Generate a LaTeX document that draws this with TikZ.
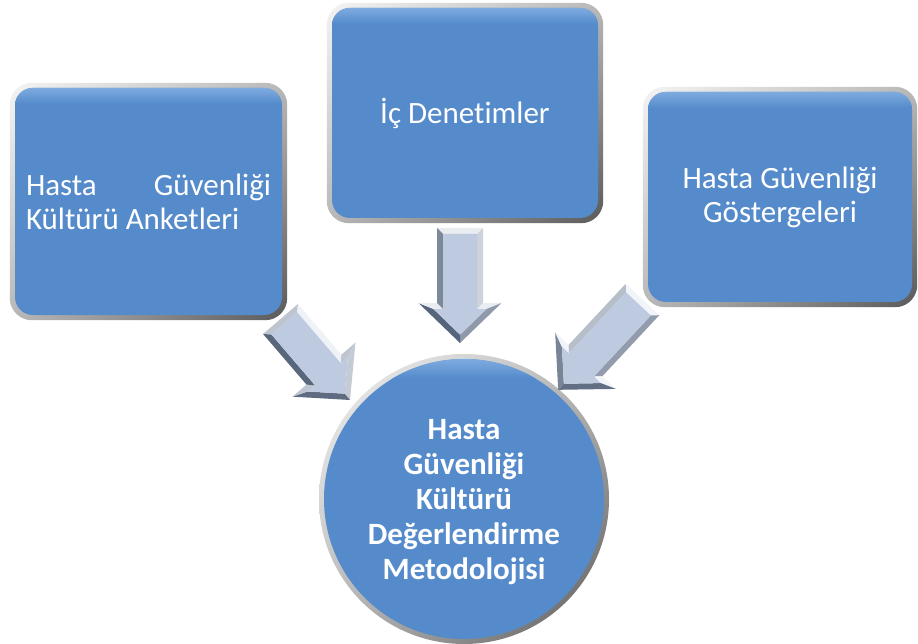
\documentclass[tikz,border=0pt]{standalone}
\usepackage{fontspec}
\setmainfont{Carlito}[Ligatures=NoCommon]
\usetikzlibrary{calc,backgrounds,shadings}
\definecolor{bxblue}{HTML}{558BCB}
\definecolor{bxhi}{HTML}{7EABE0}
\definecolor{arrface}{HTML}{BDCAE0}
\definecolor{arrhi}{HTML}{F4F7FB}
\definecolor{arrlo}{HTML}{56647B}
\definecolor{frhi}{HTML}{F4F4F4}
\definecolor{frmid}{HTML}{B8B8B8}
\definecolor{frlo}{HTML}{5A5A5A}
\makeatletter
\newcommand\bafc[1]{\pgfmathtruncatemacro\ba@p{50+50*cos(#1+\ba@ang-60)}\colorlet{bafcol}{arrhi!\ba@p!arrlo}}
\newcommand\blockarrow[2]{%
  \pgfpointdiff{\pgfpointanchor{#1}{center}}{\pgfpointanchor{#2}{center}}%
  \edef\ba@dx{\strip@pt\pgf@x}\edef\ba@dy{\strip@pt\pgf@y}%
  \pgfmathsetmacro\ba@len{veclen(\ba@dx,\ba@dy)}%
  \pgfmathsetmacro\ba@ang{atan2(\ba@dy,\ba@dx)}%
  \begin{scope}[shift={(#1)},rotate=\ba@ang,x=1pt,y=1pt]
    \bafc{180}\fill[bafcol] (0,-23) -- (0,23) -- (6,17) -- (6,-17) -- cycle;
    \bafc{90}\fill[bafcol] (0,23) -- (\ba@len-40,23) -- (\ba@len-34,17) -- (6,17) -- cycle;
    \bafc{180}\fill[bafcol] (\ba@len-40,23) -- (\ba@len-40,41.5) -- (\ba@len-34,26.6) -- (\ba@len-34,17) -- cycle;
    \bafc{44}\fill[bafcol] (\ba@len-40,41.5) -- (\ba@len,0) -- (\ba@len-8.3,0) -- (\ba@len-34,26.6) -- cycle;
    \bafc{-44}\fill[bafcol] (\ba@len,0) -- (\ba@len-40,-41.5) -- (\ba@len-34,-26.6) -- (\ba@len-8.3,0) -- cycle;
    \bafc{180}\fill[bafcol] (\ba@len-40,-41.5) -- (\ba@len-40,-23) -- (\ba@len-34,-17) -- (\ba@len-34,-26.6) -- cycle;
    \bafc{-90}\fill[bafcol] (\ba@len-40,-23) -- (0,-23) -- (6,-17) -- (\ba@len-34,-17) -- cycle;
    \fill[arrface] (6,17) -- (\ba@len-34,17) -- (\ba@len-34,26.6) -- (\ba@len-8.3,0)
       -- (\ba@len-34,-26.6) -- (\ba@len-34,-17) -- (6,-17) -- cycle;
  \end{scope}}
\makeatother
\tikzset{
  bx/.style={rectangle, rounded corners=18pt, fill=bxblue, text=white, inner sep=0pt,
    font=\fontsize{31}{34}\selectfont},
  circ/.style={circle, minimum size=280pt, fill=bxblue, text=white, inner sep=0pt,
    align=center, font=\bfseries\fontsize{31}{35}\selectfont},
  frame/.style={shading=bilinear interpolation, upper left=frhi, upper right=frmid,
    lower left=frmid, lower right=frlo},
  gloss/.style={top color=bxhi, bottom color=bxblue}
}
\begin{document}
\begin{tikzpicture}[x=1pt,y=-1pt]
\useasboundingbox (0,0) rectangle (918,644);
\begin{scope}[on background layer]
  \fill[white] (0,0) rectangle (918,644);
\end{scope}
% boxes
\node[bx, minimum width=267pt, minimum height=227pt] (l) at (148.5,201.5)
  {\parbox{245pt}{Hasta\hfill Güvenliği\\Kültürü Anketleri}};
\node[bx, minimum width=266pt, minimum height=210pt] (c) at (465,113) {İç Denetimler};
\node[bx, minimum width=264pt, minimum height=210pt, align=center] (r) at (780,197)
  {Hasta Güvenliği\\Göstergeleri};
\node[circ] (m) at (464,499) {};
\node[circ, fill=none, minimum size=0pt] (mt) at (464,502.5)
  {Hasta\\Güvenliği\\Kültürü\\Değerlendirme\\Metodolojisi};
% frames
\begin{scope}[on background layer]
  \foreach \b in {l,c,r}{
    \shade[frame, rounded corners=22pt] ($(\b.north west)+(-5,-5)$) rectangle ($(\b.south east)+(5,5)$);
  }
  \shade[frame] (m.center) circle[radius=145];
\end{scope}
% gloss
\foreach \b in {l,c,r}{
  \begin{scope}
    \clip[rounded corners=18pt] (\b.north west) rectangle (\b.south east);
    \shade[gloss] (\b.north west) rectangle ($(\b.north east)+(0,16)$);
  \end{scope}
}
\begin{scope}
  \clip (m.center) circle[radius=140];
  \shade[gloss] ($(m.center)+(-140,-140)$) rectangle ($(m.center)+(140,-121)$);
\end{scope}
% arrows
\coordinate (ca1) at (460,228);
\coordinate (ca2) at (460,343);
\coordinate (la1) at (280.5,319);
\coordinate (la2) at (350,400);
\coordinate (ra1) at (642.5,299.5);
\coordinate (ra2) at (558,390);
\blockarrow{ca1}{ca2}
\blockarrow{la1}{la2}
\blockarrow{ra1}{ra2}
\end{tikzpicture}
\end{document}
